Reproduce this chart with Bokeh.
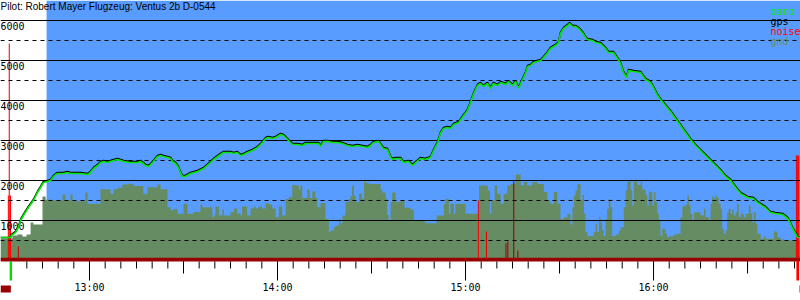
from bokeh.plotting import figure
from bokeh.models import Range1d
from bokeh.embed import file_html
from bokeh.resources import INLINE
from bokeh.core.properties import value

TITLE = "Pilot: Robert Mayer Flugzeug: Ventus 2b D-0544"

# time in minutes after midnight, altitude in metres
baro_t = [
    751.6, 754.8, 755.1, 756.4, 757.3, 758.0, 758.9, 760.5, 762.1, 763.4,
    764.4, 765.3, 766.6, 767.6, 768.5, 769.2, 769.8, 771.7, 773.0, 773.9,
    777.1, 779.4, 780.3, 781.3, 782.6, 783.5, 784.5, 785.7, 787.7, 788.9,
    789.9, 790.9, 793.1, 795.3, 796.3, 797.9, 798.8, 799.5, 800.4, 801.7,
    802.7, 803.6, 804.9, 805.9, 806.5, 807.5, 808.4, 809.0, 809.7, 810.6,
    812.2, 814.5, 816.4, 818.6, 819.6, 821.8, 822.8, 825.0, 826.0, 827.2,
    828.2, 829.2, 830.4, 832.0, 833.6, 835.2, 836.2, 837.1, 838.4, 839.4,
    841.0, 841.9, 842.9, 843.5, 844.8, 846.4, 848.0, 848.9, 850.5, 852.1,
    853.1, 853.7, 854.7, 856.0, 857.6, 859.2, 860.7, 862.3, 863.9, 865.5,
    867.1, 868.7, 869.7, 870.6, 872.2, 873.8, 875.1, 876.1, 876.7, 877.7,
    879.3, 880.2, 881.8, 883.1, 884.1, 885.6, 887.2, 888.8, 889.8, 891.1,
    892.0, 893.0, 894.3, 895.2, 896.2, 897.8, 899.4, 900.6, 901.6, 902.6,
    903.8, 904.8, 905.7, 907.0, 908.0, 908.9, 910.2, 911.2, 912.8, 913.7,
    915.0, 916.0, 916.9, 918.2, 919.2, 919.8, 920.7, 921.7, 924.0, 924.9,
    926.2, 927.1, 928.7, 929.7, 930.3, 931.3, 932.6, 933.2, 934.2, 935.1,
    936.1, 937.3, 938.3, 938.9, 940.5, 941.5, 943.1, 944.7, 945.6, 947.2,
    948.5, 949.5, 950.4, 951.4, 952.0, 953.6, 955.9, 956.5, 957.5, 959.0,
    960.0, 961.3, 962.2, 963.8, 965.4, 967.0, 968.6, 970.2, 971.8, 973.4,
    975.0, 976.6, 978.2, 979.8, 981.4, 983.0, 984.6, 986.2, 987.8, 990.0,
    991.9, 993.2, 995.7, 997.3, 998.9, 1001.2, 1002.8, 1003.7, 1004.4, 1005.3,
    1006.0, 1006.9,
]
baro_alt = [
    575, 575, 625, 700, 825, 1000, 1125, 1325, 1500, 1700,
    1825, 1950, 1975, 2000, 2100, 2150, 2175, 2175, 2200, 2175,
    2175, 2150, 2200, 2300, 2375, 2450, 2475, 2450, 2500, 2525,
    2500, 2475, 2450, 2450, 2475, 2375, 2350, 2400, 2475, 2600,
    2625, 2600, 2575, 2550, 2475, 2425, 2325, 2200, 2100, 2100,
    2175, 2225, 2300, 2450, 2525, 2650, 2700, 2700, 2675, 2700,
    2625, 2650, 2700, 2750, 2825, 2950, 3050, 3075, 3050, 3075,
    3150, 3125, 3050, 3000, 2900, 2900, 2875, 2925, 2925, 2925,
    2925, 2850, 2975, 2975, 2950, 2950, 2925, 2875, 2850, 2875,
    2850, 2825, 2875, 2950, 2975, 2800, 2775, 2575, 2525, 2550,
    2550, 2450, 2475, 2375, 2450, 2550, 2525, 2575, 2750, 2950,
    3175, 3300, 3325, 3300, 3400, 3450, 3625, 3750, 3950, 4175,
    4375, 4425, 4350, 4425, 4300, 4425, 4375, 4450, 4400, 4475,
    4375, 4475, 4300, 4525, 4700, 4850, 4875, 4950, 5000, 5075,
    5200, 5300, 5375, 5450, 5675, 5800, 5875, 5925, 5850, 5850,
    5800, 5700, 5575, 5525, 5500, 5450, 5425, 5300, 5200, 5200,
    5050, 4925, 4700, 4575, 4750, 4725, 4700, 4625, 4525, 4450,
    4325, 4125, 4025, 3875, 3725, 3550, 3375, 3200, 3025, 2875,
    2750, 2625, 2500, 2375, 2250, 2100, 2000, 1825, 1675, 1575,
    1550, 1450, 1325, 1200, 1175, 1150, 1050, 925, 800, 675,
    575, 575,
]
gps_alt = [
    575, 575, 650, 725, 850, 1025, 1150, 1350, 1525, 1725,
    1850, 1975, 2000, 2025, 2125, 2175, 2200, 2200, 2225, 2200,
    2200, 2175, 2225, 2325, 2400, 2475, 2500, 2475, 2525, 2550,
    2525, 2500, 2475, 2475, 2500, 2400, 2375, 2425, 2500, 2625,
    2650, 2625, 2600, 2575, 2500, 2450, 2350, 2225, 2125, 2125,
    2200, 2250, 2325, 2475, 2550, 2675, 2725, 2725, 2700, 2725,
    2650, 2675, 2725, 2775, 2850, 2975, 3075, 3100, 3075, 3100,
    3175, 3150, 3075, 3025, 2925, 2925, 2900, 2950, 2950, 2950,
    2950, 2875, 3000, 3000, 2975, 2975, 2950, 2900, 2875, 2900,
    2875, 2850, 2900, 2975, 3000, 2825, 2800, 2600, 2550, 2575,
    2575, 2475, 2500, 2400, 2475, 2575, 2550, 2600, 2775, 2975,
    3200, 3325, 3350, 3325, 3425, 3475, 3650, 3775, 3975, 4200,
    4400, 4450, 4375, 4450, 4325, 4450, 4400, 4475, 4425, 4500,
    4400, 4500, 4325, 4550, 4725, 4875, 4900, 4975, 5025, 5100,
    5225, 5325, 5400, 5475, 5700, 5825, 5900, 5950, 5875, 5875,
    5825, 5725, 5600, 5550, 5525, 5475, 5450, 5325, 5225, 5225,
    5075, 4950, 4725, 4600, 4775, 4750, 4725, 4650, 4550, 4475,
    4350, 4150, 4050, 3900, 3750, 3575, 3400, 3225, 3050, 2900,
    2775, 2650, 2525, 2400, 2275, 2125, 2025, 1850, 1700, 1600,
    1575, 1475, 1350, 1225, 1200, 1175, 1075, 950, 825, 700,
    600, 575,
]
gnd_t = [
    751.6, 754.8, 755.4, 757.0, 758.6, 759.9, 761.2, 762.1, 765.0, 766.0,
    768.2, 771.4, 772.3, 773.9, 774.6, 778.7, 779.4, 783.5, 786.7, 787.7,
    788.9, 790.5, 792.1, 794.1, 797.2, 798.5, 801.7, 802.7, 804.9, 805.9,
    806.8, 808.1, 810.0, 811.3, 813.2, 815.4, 816.0, 819.2, 819.7, 820.2,
    821.3, 822.4, 822.9, 825.0, 826.1, 827.1, 828.2, 828.7, 830.3, 831.4,
    832.4, 833.0, 834.0, 835.1, 836.2, 837.2, 838.3, 839.4, 840.4, 841.5,
    842.6, 843.6, 844.7, 845.8, 846.8, 847.3, 847.9, 849.5, 850.3, 851.1,
    852.1, 852.7, 853.7, 855.3, 856.4, 856.9, 858.0, 858.5, 859.6, 860.1,
    860.7, 861.7, 862.8, 863.3, 863.8, 864.4, 864.9, 866.0, 867.0, 867.6,
    868.1, 869.1, 872.9, 873.4, 874.5, 875.0, 875.5, 876.1, 876.6, 877.7,
    879.3, 880.5, 882.5, 883.5, 887.2, 890.8, 893.1, 893.6, 894.7, 895.2,
    896.3, 896.8, 900.0, 904.3, 907.1, 907.8, 908.2, 909.3, 910.1, 911.2,
    912.2, 913.3, 914.4, 916.0, 917.6, 918.6, 919.7, 921.3, 922.9, 925.0,
    926.1, 927.1, 928.2, 929.3, 930.3, 931.4, 932.5, 933.5, 934.1, 934.6,
    935.1, 935.7, 936.7, 937.3, 937.8, 938.3, 938.9, 941.0, 941.5, 942.0,
    942.6, 943.1, 943.6, 944.1, 944.7, 945.2, 945.7, 946.3, 946.8, 947.9,
    948.9, 949.5, 950.5, 951.1, 951.6, 952.1, 952.7, 953.2, 953.7, 954.3,
    954.8, 955.9, 956.4, 957.5, 958.0, 958.5, 959.0, 959.6, 960.1, 960.6,
    961.2, 961.7, 962.2, 962.8, 963.8, 964.4, 964.9, 966.5, 967.6, 968.6,
    969.2, 970.2, 970.8, 971.3, 971.8, 972.4, 972.9, 975.0, 976.1, 976.6,
    977.7, 978.2, 978.7, 979.3, 979.8, 980.3, 980.8, 981.4, 981.9, 982.4,
    983.0, 983.5, 984.0, 984.6, 985.1, 985.6, 986.2, 986.7, 987.2, 987.8,
    988.8, 989.4, 990.4, 991.0, 991.5, 992.0, 992.6, 993.1, 994.2, 995.2,
    995.8, 998.4, 999.5, 1000.5, 1001.6, 1006.9,
]
gnd_alt = [
    550, 550, 625, 650, 600, 650, 950, 900, 1600, 1520,
    1500, 1650, 1500, 1650, 1480, 1700, 1420, 1780, 1670, 1780,
    1820, 1900, 1920, 1860, 1670, 1830, 1900, 1780, 1330, 1250,
    1290, 1170, 1420, 1170, 1210, 1400, 1333, 1080, 1125, 1350,
    1125, 1275, 1125, 1210, 1300, 1175, 1125, 1350, 1125, 1300,
    1350, 1300, 1350, 1300, 1433, 1400, 1300, 1083, 1350, 1125,
    1540, 1580, 1890, 1875, 1775, 1875, 1560, 1775, 1560, 1725,
    1560, 1333, 1440, 1040, 710, 750, 830, 875, 1040, 925,
    1125, 1460, 1540, 1610, 1875, 1625, 1460, 1675, 1540, 2025,
    1940, 1915, 1775, 1700, 1540, 1140, 1000, 1460, 1700, 1460,
    1515, 1317, 1267, 1000, 933, 1125, 1417, 1540, 1167, 1417,
    1167, 1417, 1167, 1875, 1750, 1167, 1500, 1875, 1667, 1417,
    1667, 1875, 1915, 2150, 1875, 1960, 1875, 1960, 1915, 1710,
    1500, 1417, 1710, 1417, 1040, 1083, 1167, 900, 1333, 1625,
    1750, 1915, 1500, 1640, 1167, 710, 610, 710, 917, 710,
    1083, 960, 750, 610, 1040, 1290, 1540, 1333, 610, 650,
    750, 830, 1333, 1750, 1960, 2000, 1750, 1375, 2000, 2025,
    1890, 2000, 1775, 1640, 1375, 1725, 1708, 1375, 1708, 1458,
    1167, 1000, 625, 792, 667, 583, 608, 650, 667, 1083,
    1358, 1400, 1625, 1375, 1167, 1000, 1208, 1125, 1292, 1083,
    1000, 1417, 1600, 1542, 1625, 1567, 1417, 1292, 792, 667,
    750, 1208, 1292, 1167, 1267, 1125, 1208, 1417, 1083, 1167,
    1083, 1167, 1375, 1183, 958, 1208, 917, 667, 542, 600,
    542, 725, 583, 525, 500, 500,
]
noise_t = [754.1, 754.4, 754.8, 757.3, 904.1, 906.7, 912.9, 913.5, 915.4, 916.7, 1005.6, 1005.9, 1006.3]
noise_v = [1625, 5425, 1625, 350, 1500, 725, 425, 475, 1975, 250, 2625, 2625, 2625]
noise_floor = 70

grid_solid = [1000, 2000, 3000, 4000, 5000, 6000]
grid_dashed = [500, 1500, 2500, 3500, 4500, 5500]
alt_labels = ["1000", "2000", "3000", "4000", "5000", "6000"]
hour_ticks = [780, 840, 900, 960]
hour_labels = ["13:00", "14:00", "15:00", "16:00"]
half_ticks = [810, 870, 930, 990]
minor_ticks = list(range(755, 1006, 5))
task_start = 766.3
takeoff_t = 754.9
landing_t = 1006.0
series_names = ["baro", "gps", "noise", "gnd"]

assert len(baro_t) == len(baro_alt) == len(gps_alt)
assert len(gnd_t) == len(gnd_alt)
assert len(noise_t) == len(noise_v)

# view window
T0, T1 = 751.6, 1006.9
A0, A1 = -1000, 6500
W, H = 800, 300


def xpx(px):
    return T0 + px * (T1 - T0) / W


def ypx(py):
    return A1 - py * (A1 - A0) / H


BLUE = "#599cff"
GND = "#668c64"
BARO = "#00e800"
NOISE = "#ff0000"
DARK = "#990000"
MONO = value("DejaVu Sans Mono")

p = figure(width=W, height=H, x_range=Range1d(T0, T1), y_range=Range1d(A0, A1),
           output_backend="svg", toolbar_location=None, min_border=0,
           x_axis_type=None, y_axis_type=None)
p.outline_line_color = None
p.background_fill_color = "white"
p.border_fill_color = "white"

# flight window background
p.quad(left=[task_start], right=[T1], bottom=[0], top=[A1], fill_color=BLUE, line_color=None)

# ground elevation
p.varea_step(x=gnd_t, y1=[0] * len(gnd_t), y2=gnd_alt, step_mode="after", fill_color=GND)

# noise
noise_colors = [NOISE if (v > 1000 or t < 910) else "#a80000" for t, v in zip(noise_t, noise_v)]
noise_colors = [NOISE, NOISE, NOISE, "#d00000", NOISE, "#e00000", "#a00000", "#a00000", "#900000", "#a00000", NOISE, NOISE, NOISE]
p.vbar(x=noise_t, top=noise_v, bottom=0, width=(T1 - T0) / W * 1.05, fill_color=noise_colors, line_color=None)
p.quad(left=[T0], right=[T1], bottom=[ypx(261)], top=[noise_floor], fill_color=DARK, line_color=None)

# grid lines
p.segment(x0=T0, x1=T1, y0=grid_solid, y1=grid_solid, line_color="black", line_width=1)
p.segment(x0=T0, x1=T1, y0=grid_dashed, y1=grid_dashed, line_color="black", line_width=1, line_dash="4 4")
p.text(x=[T0] * len(grid_solid), y=grid_solid, text=alt_labels, text_font=MONO, text_font_size="10px",
       text_baseline="top", text_align="left", y_offset=1, text_color="black")

# tracks
p.line(baro_t, gps_alt, line_color="black", line_width=1.6)
p.line(baro_t, baro_alt, line_color=BARO, line_width=1.6)

# time axis
p.segment(x0=minor_ticks, x1=minor_ticks, y0=ypx(261), y1=ypx(268), line_color="black", line_width=1)
p.segment(x0=half_ticks, x1=half_ticks, y0=ypx(261), y1=ypx(273), line_color="black", line_width=1)
p.segment(x0=hour_ticks, x1=hour_ticks, y0=ypx(261), y1=ypx(280), line_color="black", line_width=1)
p.text(x=hour_ticks, y=[ypx(281)] * len(hour_ticks), text=hour_labels, text_font=MONO, text_font_size="10px",
       text_baseline="top", text_align="center", text_color="black")

# takeoff / landing markers
p.segment(x0=[takeoff_t], x1=[takeoff_t], y0=[ypx(261)], y1=[ypx(280)], line_color="#00dd00", line_width=2.4)
p.segment(x0=[landing_t], x1=[landing_t], y0=[0], y1=[ypx(280)], line_color=NOISE, line_width=2.6)
p.quad(left=[T0, landing_t + 0.6], right=[takeoff_t, T1], bottom=[ypx(292)] * 2, top=[ypx(285)] * 2,
       fill_color=DARK, line_color=None)

# legend labels
p.text(x=[xpx(770)] * 4, y=[ypx(10.7), ypx(20.7), ypx(30.7), ypx(40.7)], text=series_names,
       text_color=[BARO, "black", NOISE, GND], text_font=MONO, text_font_size="10px",
       text_baseline="alphabetic", text_align="left")

# title
p.text(x=[T0], y=[ypx(0.5)], text=[TITLE], text_font=value("Liberation Sans"), text_font_size="10px",
       text_baseline="top", text_align="left", text_color="black")

open("out.html", "w").write(file_html(p, INLINE))
